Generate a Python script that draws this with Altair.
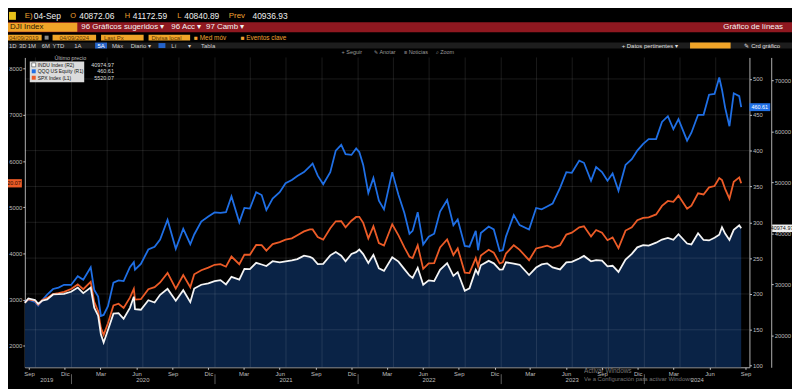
import altair as alt
import pandas as pd

# ------------------------------------------------------------------ data
D19 = ["2019-09-04", "2019-09-13", "2019-09-30", "2019-10-08", "2019-10-18", "2019-10-31",
       "2019-11-15", "2019-11-29", "2019-12-13", "2019-12-31"]
S19 = [2937, 3007, 2977, 2893, 2986, 3038, 3120, 3141, 3169, 3231]
Q19 = [189.5, 192.0, 188.8, 183.9, 191.0, 199.0, 206.9, 208.9, 212.8, 212.6]
J19 = [26355, 27220, 26917, 26164, 26770, 27046, 28005, 28051, 28135, 28538]

D20 = ["2020-01-17", "2020-01-31", "2020-02-19", "2020-02-28", "2020-03-09", "2020-03-16",
       "2020-03-23", "2020-04-03", "2020-04-17", "2020-04-30", "2020-05-13", "2020-05-29",
       "2020-06-08", "2020-06-11", "2020-06-26", "2020-07-15", "2020-07-31", "2020-08-14",
       "2020-09-02", "2020-09-23", "2020-10-12", "2020-10-30", "2020-11-09", "2020-11-27",
       "2020-12-15", "2020-12-31"]
S20 = [3330, 3226, 3386, 2954, 2747, 2386, 2237, 2489, 2875, 2912, 2820, 3044, 3232, 3002,
       3009, 3227, 3271, 3373, 3580, 3237, 3534, 3270, 3550, 3638, 3695, 3756]
Q20 = [224.8, 219.9, 237.3, 205.6, 196.3, 169.3, 170.7, 183.0, 215.8, 219.0, 217.9, 237.4,
       244.4, 234.0, 242.0, 262.0, 265.8, 276.0, 303.5, 263.0, 291.0, 269.4, 283.0, 301.0,
       308.0, 313.7]
J20 = [29348, 28256, 29348, 25409, 23851, 20189, 18592, 21052, 24242, 24346, 23248, 25383,
       27572, 25128, 25016, 26870, 26428, 27931, 29100, 26763, 28837, 26502, 29158, 29910,
       30200, 30606]

D21 = ["2021-01-15", "2021-01-29", "2021-02-12", "2021-03-04", "2021-03-17", "2021-03-31",
       "2021-04-16", "2021-04-30", "2021-05-12", "2021-05-28", "2021-06-15", "2021-06-30",
       "2021-07-16", "2021-07-30", "2021-08-16", "2021-08-31", "2021-09-07", "2021-09-20",
       "2021-10-04", "2021-10-22", "2021-11-05", "2021-11-19", "2021-11-30", "2021-12-15",
       "2021-12-27"]
S21 = [3768, 3714, 3934, 3768, 3974, 3973, 4185, 4181, 4063, 4204, 4246, 4298, 4327, 4395,
       4479, 4523, 4520, 4358, 4300, 4545, 4697, 4698, 4567, 4709, 4791]
Q21 = [313.0, 314.0, 336.0, 300.0, 320.0, 319.1, 342.0, 338.0, 317.0, 333.0, 342.0, 354.4,
       359.0, 364.6, 370.0, 378.0, 382.0, 365.0, 353.0, 370.0, 400.0, 408.0, 395.0, 394.0,
       403.0]
J21 = [30814, 29983, 31458, 30924, 33015, 32982, 34200, 33875, 33587, 34529, 34300, 34503,
       34688, 34935, 35625, 35361, 35100, 33970, 34002, 35677, 36328, 35602, 34484, 35927,
       36302]

D22 = ["2022-01-04", "2022-01-14", "2022-01-27", "2022-02-09", "2022-02-23", "2022-03-08",
       "2022-03-29", "2022-04-14", "2022-04-29", "2022-05-12", "2022-05-20", "2022-06-02",
       "2022-06-16", "2022-06-30", "2022-07-14", "2022-07-29", "2022-08-16", "2022-09-01",
       "2022-09-12", "2022-09-30", "2022-10-12", "2022-10-28", "2022-11-03", "2022-11-10",
       "2022-11-30", "2022-12-13", "2022-12-28"]
S22 = [4793, 4663, 4327, 4587, 4226, 4171, 4632, 4393, 4132, 3930, 3901, 4177, 3667, 3785,
       3790, 4130, 4305, 3966, 4110, 3586, 3577, 3901, 3719, 3956, 4080, 4019, 3783]
Q22 = [398.0, 380.0, 341.0, 362.0, 330.0, 318.0, 370.0, 338.0, 313.0, 284.0, 288.0, 314.0,
       269.0, 280.0, 284.0, 315.0, 331.0, 296.0, 304.0, 267.0, 266.0, 288.0, 261.0, 285.0,
       294.0, 290.0, 260.0]
J22 = [36799, 35912, 34160, 35768, 33132, 32633, 35294, 34451, 32977, 31730, 31262, 33248,
       29927, 30775, 30630, 32845, 34152, 31656, 32381, 28725, 29210, 32861, 32001, 33715,
       34589, 34108, 32875]

D23 = ["2023-01-05", "2023-01-13", "2023-02-02", "2023-02-17", "2023-03-13", "2023-03-31",
       "2023-04-14", "2023-04-28", "2023-05-12", "2023-05-31", "2023-06-16", "2023-06-30",
       "2023-07-19", "2023-07-31", "2023-08-18", "2023-08-31", "2023-09-15", "2023-09-29",
       "2023-10-12", "2023-10-27", "2023-11-14", "2023-11-30", "2023-12-14", "2023-12-29"]
S23 = [3808, 3999, 4179, 4079, 3855, 4109, 4137, 4169, 4124, 4180, 4410, 4450, 4565, 4589,
       4370, 4508, 4450, 4288, 4349, 4117, 4496, 4568, 4720, 4770]
Q23 = [261.0, 280.0, 310.0, 296.0, 290.0, 320.0, 318.0, 322.0, 326.0, 348.0, 370.0, 369.0,
       386.0, 383.0, 358.0, 377.0, 370.0, 358.0, 368.0, 344.0, 380.0, 388.0, 400.0, 409.5]
J23 = [32930, 34302, 34053, 33826, 31819, 33274, 33886, 34098, 33300, 32908, 34299, 34408,
       35061, 35560, 34500, 34722, 34618, 33508, 33631, 32418, 34828, 35951, 37248, 37690]

D24 = ["2024-01-12", "2024-01-31", "2024-02-15", "2024-03-01", "2024-03-15", "2024-03-28",
       "2024-04-19", "2024-04-30", "2024-05-17", "2024-05-31", "2024-06-14", "2024-06-28",
       "2024-07-10", "2024-07-17", "2024-07-25", "2024-08-05", "2024-08-16", "2024-08-30",
       "2024-09-04"]
S24 = [4784, 4846, 5030, 5137, 5117, 5254, 4967, 5036, 5303, 5278, 5431, 5460, 5633, 5589,
       5399, 5186, 5554, 5648, 5520.07]
Q24 = [416.0, 416.0, 440.0, 448.0, 430.0, 444.0, 414.0, 425.0, 450.0, 450.0, 478.0, 479.0,
       502.0, 485.0, 460.0, 434.0, 480.0, 476.0, 460.61]
J24 = [37593, 38150, 38773, 39087, 38715, 39807, 37986, 37816, 40004, 38686, 38589, 39119,
       39721, 41198, 39935, 38703, 40660, 41563, 40974.97]

DATES = D19 + D20 + D21 + D22 + D23 + D24
SPX = S19 + S20 + S21 + S22 + S23 + S24
QQQ = Q19 + Q20 + Q21 + Q22 + Q23 + Q24
DJI = J19 + J20 + J21 + J22 + J23 + J24

SERIES = ["INDU Index (R2)", "QQQ US Equity (R1)", "SPX Index (L1)"]
LAST_LABELS = ["40974.97", "460.61", "5520.07"]

SPX_TICKS = [2000, 3000, 4000, 5000, 6000, 7000, 8000]
QQQ_TICKS = [100, 150, 200, 250, 300, 350, 400, 450, 500]
DJI_TICKS = [20000, 30000, 40000, 50000, 60000, 70000]
MONTH_TICKS = [(2019, 9), (2019, 12), (2020, 3), (2020, 6), (2020, 9), (2020, 12),
               (2021, 3), (2021, 6), (2021, 9), (2021, 12), (2022, 3), (2022, 6),
               (2022, 9), (2022, 12), (2023, 3), (2023, 6), (2023, 9), (2023, 12),
               (2024, 3), (2024, 6), (2024, 9)]
QUARTER_LINES = ["2019-10-01", "2020-01-01", "2020-04-01", "2020-07-01", "2020-10-01",
                 "2021-01-01", "2021-04-01", "2021-07-01", "2021-10-01", "2022-01-01",
                 "2022-04-01", "2022-07-01", "2022-10-01", "2023-01-01", "2023-04-01",
                 "2023-07-01", "2023-10-01", "2024-01-01", "2024-04-01", "2024-07-01"]
YEAR_LABELS = ["2019", "2020", "2021", "2022", "2023", "2024"]
YEAR_LABEL_DATES = ["2019-10-30", "2020-07-01", "2021-07-01", "2022-07-01", "2023-07-01",
                    "2024-05-15"]
YEAR_BREAKS = ["2020-01-01", "2021-01-01", "2022-01-01", "2023-01-01", "2024-01-01"]

# ------------------------------------------------------------------ styling
BLUE, ORANGE, WHITE, NAVY = "#1f6fe5", "#ec5b27", "#f4f4f4", "#0a2346"
AMBER, RED = "#f0a428", "#8f1820"
W, H = 732, 313

df = pd.DataFrame({"date": DATES, "spx": SPX, "qqq": QQQ, "dji": DJI})
last = df.tail(1)
one = pd.DataFrame({"k": [0]})

xscale = alt.Scale(domain=[alt.DateTime(year=2019, month=9, date=4),
                           alt.DateTime(year=2024, month=9, date=25)])
spx_scale = alt.Scale(domain=[1536, 8245], zero=False, nice=False)
qqq_scale = alt.Scale(domain=[97.7, 530], zero=False, nice=False)
dji_scale = alt.Scale(domain=[13733, 74463], zero=False, nice=False)

axis_style = dict(labelFontSize=6, labelColor="#bdbdbd", tickColor="#cfcfcf", tickSize=2,
                  domainColor="#b0b0b0", grid=False, title=None, labelPadding=1,
                  labelOverlap=False)
xaxis = alt.Axis(values=[alt.DateTime(year=y, month=m, date=15) for y, m in MONTH_TICKS],
                 labelExpr="['Ene','Feb','Mar','Abr','May','Jun','Jul','Ago','Sep','Oct','Nov','Dic'][month(datum.value)]",
                 labelFlush=False, **axis_style)
spx_axis = alt.Axis(orient="left", values=SPX_TICKS, format="d", **axis_style)
qqq_axis = alt.Axis(orient="right", values=QQQ_TICKS, format="d", offset=0, **axis_style)
dji_axis = alt.Axis(orient="right", values=DJI_TICKS, format="d", offset=22, **axis_style)


def X(field="date"):
    return alt.X(f"{field}:T", scale=xscale, axis=xaxis)


def series_line(field, color, scale, axis):
    return alt.Chart(df).mark_line(strokeWidth=1.8, color=color).encode(
        x=X(), y=alt.Y(f"{field}:Q", scale=scale, axis=axis))


TAG = "M-1,-0.38L1,-0.38L1,0.38L-1,0.38Z"


def tag(field, scale, axis, xpos, width, fill, label, tcolor):
    y = alt.Y(f"{field}:Q", scale=scale, axis=axis)
    bx = alt.Chart(last).mark_point(shape=TAG, size=width * width, filled=True, fill=fill,
                                    opacity=1, strokeWidth=0).encode(x=alt.value(xpos), y=y)
    t = alt.Chart(last).mark_text(fontSize=5.5, color=tcolor).encode(
        x=alt.value(xpos), y=y, text=alt.value(label))
    return [bx, t]


def txt(s, x, y, color="#e6e6e6", size=8.5, align="left", opacity=1):
    return alt.Chart(one).mark_text(align=align, baseline="middle", fontSize=size, color=color,
                                    opacity=opacity).encode(
        x=alt.value(x), y=alt.value(y), text=alt.value(s))


def box(x1, x2, y1, y2, color, stroke=None):
    kw = {"color": color}
    if stroke:
        kw.update(stroke=stroke, strokeWidth=0.6)
    return alt.Chart(one).mark_rect(**kw).encode(
        x=alt.value(x1), x2=alt.value(x2), y=alt.value(y1), y2=alt.value(y2))


# ------------------------------------------------------------------ layers
dji_area = alt.Chart(df).mark_area(color=NAVY, opacity=1, clip=True).encode(
    x=X(), y=alt.Y("dji:Q", scale=dji_scale, axis=dji_axis))

vgrid = alt.Chart(pd.DataFrame({"date": QUARTER_LINES})).mark_rule(
    color="#ffffff", opacity=0.13, strokeWidth=0.8).encode(x=X())

hgrid = alt.Chart(pd.DataFrame({"v": QQQ_TICKS[1:]})).mark_rule(
    color="#ffffff", opacity=0.13, strokeWidth=0.8).encode(
    y=alt.Y("v:Q", scale=qqq_scale, axis=qqq_axis))

qqq_layer = alt.layer(hgrid, series_line("qqq", BLUE, qqq_scale, qqq_axis),
                      *tag("qqq", qqq_scale, qqq_axis, 742.5, 21, BLUE, LAST_LABELS[1],
                           "#ffffff"))
spx_layer = alt.layer(series_line("spx", ORANGE, spx_scale, spx_axis),
                      *tag("spx", spx_scale, spx_axis, -14, 22, ORANGE, LAST_LABELS[2],
                           "#2a0c00"))
dji_layer = alt.layer(series_line("dji", WHITE, dji_scale, None),
                      *tag("dji", dji_scale, None, 765, 20, "#eeeeee", LAST_LABELS[0],
                           "#111111"))

year_text = alt.Chart(pd.DataFrame({"date": YEAR_LABEL_DATES, "t": YEAR_LABELS})).mark_text(
    fontSize=6, color="#bdbdbd").encode(x=X(), y=alt.value(326), text="t:N")
year_breaks = alt.Chart(pd.DataFrame({"date": YEAR_BREAKS})).mark_rule(
    color="#777777", strokeWidth=0.8).encode(x=X(), y=alt.value(320), y2=alt.value(330))

legend_parts = [
    txt("Último precio", 30, 1, "#bbbbbb", 5.5),
    box(5, 60, 4, 25, "#dcdcdc"),
    box(7, 11, 5.5, 9.5, "#ffffff", "#444444"),
    box(7, 11, 12, 16, BLUE),
    box(7, 11, 18.5, 22.5, ORANGE),
    txt(SERIES[0], 13, 7.5, "#111111", 5),
    txt(SERIES[1], 13, 14, "#111111", 5),
    txt(SERIES[2], 13, 20.5, "#111111", 5),
    txt(LAST_LABELS[0], 90, 7.5, "#dddddd", 5.5, "right"),
    txt(LAST_LABELS[1], 90, 14, "#dddddd", 5.5, "right"),
    txt(LAST_LABELS[2], 90, 20.5, "#dddddd", 5.5, "right"),
]

OR = "#f0a030"
header = [
    # row with open/high/low
    box(-16, -9, -46, -38, "#e8c21a"),
    txt("E)", 0, -42, OR, 8), txt("04-Sep", 9, -42, "#eeeeee", 8.5),
    txt("O", 46, -42, OR, 7.5), txt("40872.06", 55, -42, "#eeeeee", 8.5),
    txt("H", 101, -42, OR, 7.5), txt("41172.59", 109, -42, "#eeeeee", 8.5),
    txt("L", 154, -42, OR, 7.5), txt("40840.89", 161, -42, "#eeeeee", 8.5),
    txt("Prev", 206, -42, OR, 8), txt("40936.93", 230, -42, "#eeeeee", 8.5),
    # red bar
    box(-25, 775, -35.5, -25.5, RED),
    box(-24, 53, -35, -26, AMBER),
    txt("DJI Index", -15, -30.5, "#2a1a00", 8),
    txt("96 Gráficos sugeridos ▾", 57, -30.5, "#f2f2f2", 8),
    txt("96 Acc ▾", 148, -30.5, "#f2f2f2", 8),
    txt("97 Camb ▾", 183, -30.5, "#f2f2f2", 8),
    txt("Gráfico de líneas", 766, -30.5, "#f2f2f2", 8, "right"),
    # amber field row
    box(-23, 17, -23, -17, AMBER), txt("04/09/2019", -16, -20, "#5a3500", 6),
    box(20, 24, -22, -18, "#8a8a8a"),
    box(28, 72, -23, -17, AMBER), txt("04/09/2024", 50, -20, "#5a3500", 6, "center"),
    box(77, 120, -23, -17, AMBER), txt("Last Px", 80, -20, "#5a3500", 6),
    box(125, 167, -23, -17, AMBER), txt("Divisa local", 128, -20, "#5a3500", 6),
    txt("■ Med móv", 171, -20, OR, 6.5), txt("■ Eventos clave", 218, -20, OR, 6.5),
    # toolbar row
    box(-25, 775, -15, -9, "#1d1d1d"),
    txt("1D", -16, -12, "#cfcfcf", 6), txt("3D", -6, -12, "#cfcfcf", 6),
    txt("1M", 3, -12, "#cfcfcf", 6), txt("6M", 17, -12, "#cfcfcf", 6),
    txt("YTD", 28, -12, "#cfcfcf", 6), txt("1A", 50, -12, "#cfcfcf", 6),
    box(71, 83, -15, -9, "#2563c9"), txt("5A", 77, -12, "#ffffff", 6, "center"),
    txt("Máx", 88, -12, "#cfcfcf", 6), txt("Diario ▾", 107, -12, "#cfcfcf", 6),
    box(135, 142, -14.5, -9.5, "#2563c9"), txt("Lí", 148, -12, "#cfcfcf", 6),
    txt("▾", 165, -12, "#cfcfcf", 6), txt("Tabla", 178, -12, "#cfcfcf", 6),
    txt("+ Datos pertinentes ▾", 603, -12, "#e0e0e0", 6),
    box(672, 713, -15, -9, AMBER),
    txt("✎ Crd gráfico", 727, -12, "#e0e0e0", 6),
    # chart toolbar
    txt("+ Seguir", 320, -5, "#9a9a9a", 5.5), txt("✎ Anotar", 353, -5, "#9a9a9a", 5.5),
    txt("≡ Noticias", 383, -5, "#9a9a9a", 5.5), txt("⌕ Zoom", 415, -5, "#9a9a9a", 5.5),
]

watermark = [
    txt("Activar Windows", 565, 317, "#bbbbbb", 6.5, opacity=0.6),
    txt("Ve a Configuración para activar Windows.", 565, 325, "#bbbbbb", 6, opacity=0.6),
]

chart = alt.layer(
    dji_area, vgrid, qqq_layer, spx_layer, dji_layer, year_text, year_breaks,
    *legend_parts, *header, *watermark,
).resolve_scale(y="independent").properties(
    width=W, height=H,
    padding={"left": 17, "top": 48, "right": 43, "bottom": 20},
    autosize=alt.AutoSizeParams(type="none"),
).configure(background="#000000", font="Liberation Sans").configure_view(stroke=None)

chart.save("out.html", embed_options={"renderer": "svg", "actions": False})
